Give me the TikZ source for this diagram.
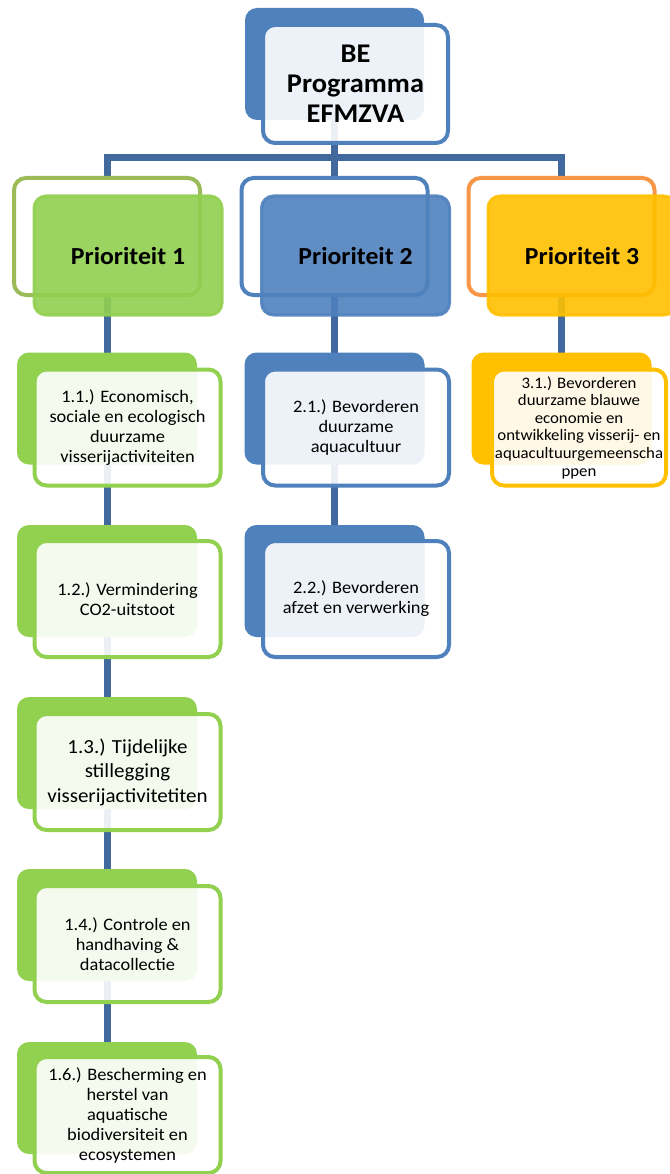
\documentclass[tikz,border=0pt]{standalone}
\usepackage{fontspec}
\setmainfont{Carlito}[FakeStretch=1.05]
\definecolor{conncol}{HTML}{41699D}
\definecolor{obl}{HTML}{4F81BD}
\definecolor{ogr}{HTML}{92D050}
\definecolor{ogrol}{HTML}{9BBB59}
\definecolor{oyl}{HTML}{FFC000}
\definecolor{oor}{HTML}{F79646}
\pgfdeclarelayer{bg}
\pgfdeclarelayer{paper}
\pgfsetlayers{paper,bg,main}
\begin{document}
\begin{tikzpicture}[x=1pt,y=-1pt,
  conn/.style={draw=conncol,line width=7pt,line join=miter},
  shp/.style={rectangle,rounded corners=12pt,inner sep=0pt,outer sep=0pt},
  bk/.style={shp,minimum width=180pt,minimum height=112pt,fill=#1},
  fr/.style={shp,minimum width=186pt,minimum height=116pt,line width=4pt,draw=#1,
    fill=white,fill opacity=0.9,draw opacity=1,text opacity=1,align=center,
    font=\fontsize{17.5}{20}\selectfont},
  topbk/.style={shp,minimum width=186pt,minimum height=117pt,line width=4pt,draw=#1,fill=white},
  topfr/.style={shp,minimum width=188pt,minimum height=119pt,line width=3pt,draw=#1,
    fill=#1,fill opacity=0.9,draw opacity=0.9,text opacity=1,
    font=\bfseries\fontsize{24.5}{30}\selectfont}
]
\useasboundingbox (0,0) rectangle (669,1174);
\begin{pgfonlayer}{paper}
\fill[white] (0,0) rectangle (669,1174);
\end{pgfonlayer}
\coordinate (bus) at (0,158);

% ---------- root ----------
\node[bk=obl,minimum width=179pt] (beb) at (334.5,64) {};
\node[fr=obl,minimum width=185pt,minimum height=118pt,
  font=\bfseries\fontsize{27}{30}\selectfont] (bef) at (355.5,84) {BE\\Programma\\EFMZVA};

% ---------- level 1 ----------
\node[topbk=ogrol] (p1b) at (107,236.5) {};
\node[topbk=obl] (p2b) at (334.5,236.5) {};
\node[topbk=oor] (p3b) at (561.5,236.5) {};
\node[topfr=ogr] (p1f) at (128,255.5) {Prioriteit 1};
\node[topfr=obl] (p2f) at (355.5,255.5) {Prioriteit 2};
\node[topfr=oyl] (p3f) at (582,255.5) {Prioriteit 3};

% ---------- level 2 backs ----------
\node[bk=ogr] (c11b) at (107,408.5) {};
\node[bk=ogr] (c12b) at (107,581) {};
\node[bk=ogr] (c13b) at (107,753) {};
\node[bk=ogr] (c14b) at (107,925) {};
\node[bk=ogr] (c16b) at (107,1098) {};
\node[bk=obl] (c21b) at (334.5,408.5) {};
\node[bk=obl] (c22b) at (334.5,581) {};
\node[bk=oyl] (c31b) at (561.5,408.5) {};

% ---------- level 2 fronts ----------
\node[fr=ogr] (c11f) at (127.5,427.5) {1.1.) Economisch,\\sociale en ecologisch\\duurzame\\visserijactiviteiten};
\node[fr=ogr] (c12f) at (127.5,599) {1.2.) Vermindering\\CO2-uitstoot};
\node[fr=ogr,font=\fontsize{20}{24.5}\selectfont] (c13f) at (127.5,772) {1.3.) Tijdelijke\\stillegging\\visserijactivitetiten};
\node[fr=ogr] (c14f) at (127.5,944) {1.4.) Controle en\\handhaving \&\\datacollectie};
\node[fr=ogr] (c16f) at (127.5,1115) {1.6.) Bescherming en\\herstel van\\aquatische\\biodiversiteit en\\ecosystemen};
\node[fr=obl] (c21f) at (356,427.5) {2.1.) Bevorderen\\duurzame\\aquacultuur};
\node[fr=obl] (c22f) at (356,599) {2.2.) Bevorderen\\afzet en verwerking};
\node[fr=oyl,minimum width=174pt,font=\fontsize{16}{17.6}\selectfont] (c31f) at (579,427.5)
  {3.1.) Bevorderen\\duurzame blauwe\\economie en\\ontwikkeling visserij- en\\aquacultuurgemeenscha\\ppen};

% ---------- connectors (behind the boxes) ----------
\begin{pgfonlayer}{bg}
\draw[conn] (p1b.center) -- (p1b.center |- bus) -- (p3b.center |- bus) -- (p3b.center);
\draw[conn] (beb.center) -- (p2b.center);
\draw[conn] (p1b.center) -- (c16b.center);
\draw[conn] (p2b.center) -- (c22b.center);
\draw[conn] (p3b.center) -- (c31b.center);
\end{pgfonlayer}
\end{tikzpicture}
\end{document}
